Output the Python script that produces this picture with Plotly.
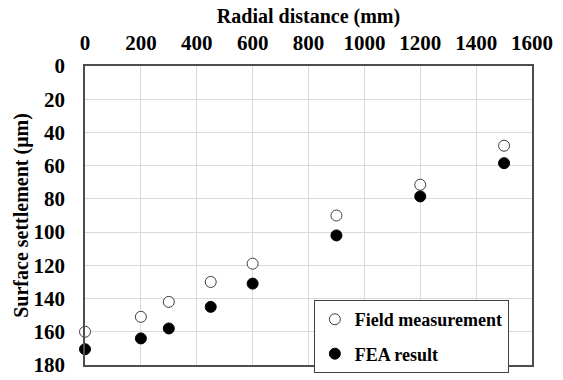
import plotly.graph_objects as go

radial_mm = [0, 200, 300, 450, 600, 900, 1200, 1500]
field_um = [160, 151, 142, 130, 119, 90, 71.5, 48]
fea_um = [170.5, 164, 158, 145, 131, 102, 78.5, 58.5]

x_ticks = [0, 200, 400, 600, 800, 1000, 1200, 1400, 1600]
y_ticks = [0, 20, 40, 60, 80, 100, 120, 140, 160, 180]

FONT = "Liberation Serif"


def b(s):
    return f"<b>{s}</b>"


fig = go.Figure()
fig.add_trace(go.Scatter(
    x=radial_mm, y=field_um, mode="markers", name=b("Field measurement"),
    legendgroup="a", cliponaxis=False,
    marker=dict(symbol="circle", size=11, color="white",
                line=dict(color="#404040", width=1)),
))
fig.add_trace(go.Scatter(
    x=radial_mm, y=fea_um, mode="markers", name=b("FEA result"),
    legendgroup="b", cliponaxis=False,
    marker=dict(symbol="circle", size=11, color="black",
                line=dict(color="black", width=1)),
))

axis_common = dict(
    showgrid=True, gridcolor="#d9d9d9", gridwidth=1,
    showline=True, linecolor="#4d4d4d", linewidth=1.5, mirror=True,
    zeroline=False, ticks="", ticklabeloverflow="allow",
    tickfont=dict(family=FONT, size=21, color="black"),
)

fig.update_layout(
    width=563, height=380,
    margin=dict(l=85, r=31, t=66, b=3),
    paper_bgcolor="white", plot_bgcolor="white",
    font=dict(family=FONT, color="black"),
    showlegend=True,
    legend=dict(
        x=0.512, y=-0.027, xanchor="left", yanchor="bottom",
        bgcolor="white", bordercolor="#404040", borderwidth=1,
        font=dict(family=FONT, size=18, color="black"),
        tracegroupgap=8, entrywidth=225, entrywidthmode="pixels",
        itemwidth=30,
    ),
    xaxis=dict(
        side="top", range=[0, 1600],
        tickvals=x_ticks, ticktext=[b(v) for v in x_ticks],
        ticklabelstandoff=6,
        title=dict(text=b("Radial distance (mm)"), standoff=2,
                   font=dict(family=FONT, size=20, color="black")),
        **axis_common,
    ),
    yaxis=dict(
        range=[180, 0],
        tickvals=y_ticks, ticktext=[b(v) for v in y_ticks],
        ticklabelstandoff=14,
        title=dict(text=b("Surface settlement (μm)"), standoff=0,
                   font=dict(family=FONT, size=20, color="black")),
        **axis_common,
    ),
)

fig.write_html("out.html")
